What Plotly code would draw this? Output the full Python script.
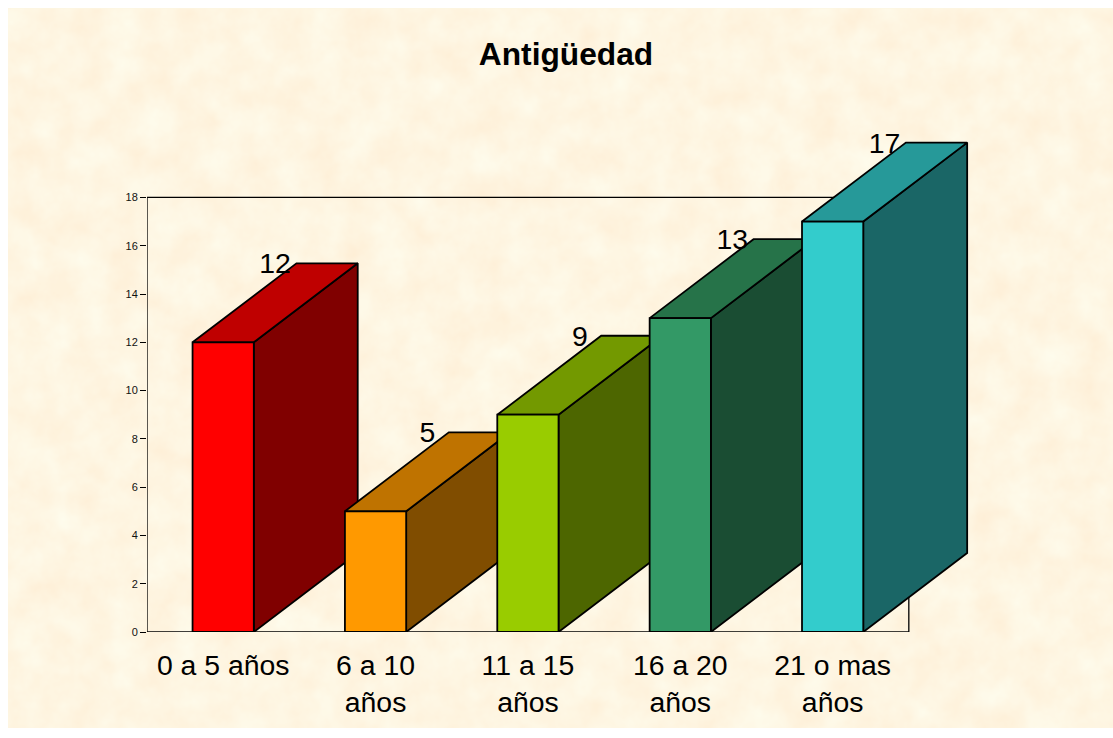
import base64
import plotly.graph_objects as go

categories = ["0 a 5 años", "6 a 10<br>años", "11 a 15<br>años", "16 a 20<br>años", "21 o mas<br>años"]
values = [12, 5, 9, 13, 17]
front_colors = ["#FF0000", "#FF9900", "#99CC00", "#339966", "#33CCCC"]
top_colors = ["#BF0000", "#BF7300", "#739900", "#267349", "#269999"]
side_colors = ["#800000", "#804D00", "#4D6600", "#1A4D33", "#1A6666"]
y_ticks = list(range(0, 19, 2))

BAR_W = 0.402
DEPTH_X = 0.682
DEPTH_Y = 3.27
LABEL_DROP = 0.12
X_RANGE = [-0.5, 5.0]
Y_RANGE = [0, 21]
BG = "#FDF6E1"
LINE = dict(color="black", width=1.8)

FIG_W, FIG_H = 1105, 720
M_L, M_T, M_B = 139, 116.5, 96
M_R = FIG_W - 139 - 838.2
PLOT_W = FIG_W - M_L - M_R
PLOT_H = FIG_H - M_T - M_B

svg = f'''<svg xmlns="http://www.w3.org/2000/svg" width="{FIG_W}" height="{FIG_H}">
<filter id="p" x="0" y="0" width="100%" height="100%" color-interpolation-filters="sRGB">
<feTurbulence type="fractalNoise" baseFrequency="0.03" numOctaves="4" seed="4"/>
<feColorMatrix type="matrix" values="0 0 0 0 0.995  0.06 0 0 0 0.932  0.10 0 0 0 0.835  0 0 0 0 1"/>
</filter>
<rect width="100%" height="100%" filter="url(#p)"/>
</svg>'''
texture = "data:image/svg+xml;base64," + base64.b64encode(svg.encode()).decode()

positions = list(range(len(categories)))
fig = go.Figure()


def face(xs, ys, color):
    fig.add_trace(go.Scatter(x=xs, y=ys, mode="lines", fill="toself", fillcolor=color,
                             line=LINE, hoverinfo="skip", showlegend=False))


for p, v, top, side in zip(positions, values, top_colors, side_colors):
    l, r = p - BAR_W / 2, p + BAR_W / 2
    face([r, r + DEPTH_X, r + DEPTH_X, r, r], [0, DEPTH_Y, v + DEPTH_Y, v, 0], side)
    face([l, r, r + DEPTH_X, l + DEPTH_X, l], [v, v, v + DEPTH_Y, v + DEPTH_Y, v], top)

fig.add_trace(go.Bar(x=positions, y=values, width=BAR_W, xaxis="x2", yaxis="y2",
                     marker=dict(color=front_colors, line=LINE), showlegend=False))
fig.add_trace(go.Scatter(x=[p + DEPTH_X / 2 for p in positions],
                         y=[v + DEPTH_Y - LABEL_DROP for v in values],
                         text=[str(v) for v in values], mode="text", textposition="middle center",
                         textfont=dict(size=28.4, color="black", family="Liberation Sans"),
                         xaxis="x2", yaxis="y2", cliponaxis=False, showlegend=False))

fig.update_layout(
    width=FIG_W, height=FIG_H, margin=dict(l=M_L, r=M_R, t=M_T, b=M_B, autoexpand=False),
    paper_bgcolor=BG, plot_bgcolor="rgba(0,0,0,0)",
    font=dict(family="Liberation Sans", color="black"),
    title=dict(text="<b>Antigüedad</b>", x=558 / FIG_W, xanchor="center", y=1 - 46 / FIG_H, yanchor="middle",
               font=dict(size=31.7, family="Liberation Sans", color="black")),
    xaxis=dict(range=X_RANGE, tickmode="array", tickvals=positions, ticktext=categories,
               ticks="", showgrid=False, zeroline=False, showline=False,
               tickfont=dict(size=28.4, color="black"), ticklabelstandoff=14),
    yaxis=dict(range=Y_RANGE, tickmode="array", tickvals=y_ticks, ticks="outside", ticklen=6, tickcolor="black",
               showgrid=False, zeroline=False, showline=False, tickfont=dict(size=11, color="#111111")),
    xaxis2=dict(range=X_RANGE, overlaying="x", visible=False),
    yaxis2=dict(range=Y_RANGE, overlaying="y", visible=False),
    images=[dict(source=texture, xref="paper", yref="paper", x=-M_L / PLOT_W, y=1 + M_T / PLOT_H,
                 sizex=FIG_W / PLOT_W, sizey=FIG_H / PLOT_H, sizing="stretch",
                 xanchor="left", yanchor="top", layer="below")],
    shapes=[dict(type="rect", xref="x", yref="y", x0=-0.5, x1=4.5, y0=0, y1=18,
                 line=dict(color="black", width=1.3), layer="below")],
)
fig.write_html("out.html", post_script="document.body.style.marginRight='0';")
